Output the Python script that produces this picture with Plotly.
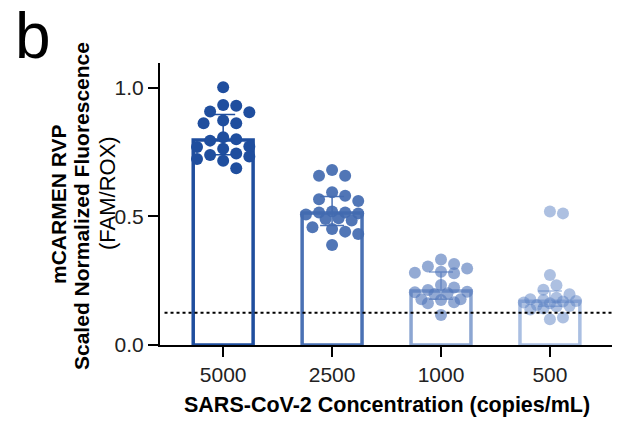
import numpy as np
import plotly.graph_objects as go

categories = ["5000", "2500", "1000", "500"]
counts = ["20/20", "20/20", "19/20", "18/20"]
threshold = 0.125

vals_5000 = [1.003, 0.934, 0.931, 0.905, 0.908, 0.863, 0.873, 0.863, 0.808, 0.800,
             0.795, 0.772, 0.770, 0.763, 0.745, 0.739, 0.733, 0.724, 0.717, 0.688]
vals_2500 = [0.681, 0.658, 0.658, 0.594, 0.581, 0.567, 0.560, 0.519, 0.515, 0.515,
             0.512, 0.508, 0.493, 0.490, 0.484, 0.458, 0.451, 0.441, 0.432, 0.389]
vals_1000 = [0.333, 0.315, 0.305, 0.298, 0.285, 0.281, 0.279, 0.233, 0.224, 0.214,
             0.207, 0.205, 0.201, 0.198, 0.178, 0.178, 0.175, 0.166, 0.162, 0.117]
vals_500 = [0.519, 0.512, 0.272, 0.232, 0.215, 0.197, 0.184, 0.178, 0.175, 0.171,
            0.169, 0.165, 0.162, 0.156, 0.152, 0.150, 0.142, 0.138, 0.107, 0.100]

all_vals = [vals_5000, vals_2500, vals_1000, vals_500]

bar_colors = ["rgb(31,78,158)", "rgb(74,113,180)", "rgb(140,166,210)", "rgb(170,191,226)"]
pt_colors = ["rgba(31,78,158,1)", "rgba(66,106,176,0.92)", "rgba(80,118,186,0.62)", "rgba(92,130,196,0.5)"]

# layout geometry (used for beeswarm spacing)
L, R, T, B = 160, 14, 63, 78
W, H = 626, 423
x_range = [-0.58, 3.57]
y_range = [0, 1.097]
px_x = (W - L - R) / (x_range[1] - x_range[0])
px_y = (H - T - B) / (y_range[1] - y_range[0])
diam = 12


def beeswarm(values, half_width=0.25, step=0.06):
    order = np.argsort(-np.asarray(values))
    placed = []
    offs = [0.0] * len(values)
    ks = [0]
    k = 1
    while k * step <= half_width + 1e-9:
        ks += [k, -k]
        k += 1
    for i in order:
        yv = values[i] * px_y
        best, best_score = 0.0, None
        for kk in ks:
            xo = kk * step
            xp = xo * px_x
            overlap = 0.0
            for (px_, py_) in placed:
                d = np.hypot(px_ - xp, py_ - yv)
                if d < diam:
                    overlap = max(overlap, diam - d)
            if overlap == 0:
                best, best_score = xo, 0
                break
            if best_score is None or overlap < best_score:
                best, best_score = xo, overlap
        offs[i] = best
        placed.append((best * px_x, yv))
    return offs


fig = go.Figure()

xs = list(range(len(categories)))
for i, v in enumerate(all_vals):
    arr = np.asarray(v)
    med = float(np.median(arr))
    q1, q3 = np.percentile(arr, [25, 75], method="weibull")
    fig.add_trace(go.Bar(
        x=[xs[i]], y=[med], width=0.55,
        marker=dict(color="white", line=dict(color=bar_colors[i], width=3.5)),
        error_y=dict(type="data", symmetric=False, array=[q3 - med], arrayminus=[med - q1],
                     color=bar_colors[i], thickness=1.5, width=12),
        showlegend=False, hoverinfo="skip"))

for i, v in enumerate(all_vals):
    offs = beeswarm(v)
    fig.add_trace(go.Scatter(
        x=[xs[i] + o for o in offs], y=v, mode="markers",
        marker=dict(size=diam, color=pt_colors[i], line=dict(width=0)),
        showlegend=False, hoverinfo="skip"))

fig.add_shape(type="line", xref="paper", yref="y", x0=0.01, x1=1, y0=threshold, y1=threshold,
              line=dict(color="black", width=2, dash="dot"))

for i, c in enumerate(counts):
    fig.add_annotation(x=xs[i], y=(H - B - 42) / px_y, xref="x", yref="y", text=c, showarrow=False,
                       font=dict(size=18, color="#111"), yanchor="middle")


def px2paper_x(px):
    return (px - L) / (W - L - R)


def px2paper_y(py):
    return (H - B - py) / (H - T - B)


fig.add_annotation(x=px2paper_x(33), y=px2paper_y(36), xref="paper", yref="paper", text="b",
                   showarrow=False, font=dict(size=64, color="black"),
                   xanchor="center", yanchor="middle")

for txt, px, py, bold, sz in [("mCARMEN RVP", 58, 205, True, 21),
                              ("Scaled Normalized Fluorescence", 81, 206, True, 21),
                              ("(FAM/ROX)", 107, 193, False, 22)]:
    fig.add_annotation(x=px2paper_x(px), y=px2paper_y(py), xref="paper", yref="paper",
                       text=f"<b>{txt}</b>" if bold else txt, textangle=-90, showarrow=False,
                       font=dict(size=sz, color="black"), xanchor="center", yanchor="middle")

fig.add_annotation(x=px2paper_x(387), y=px2paper_y(405), xref="paper", yref="paper",
                   text="<b>SARS-CoV-2 Concentration (copies/mL)</b>", showarrow=False,
                   font=dict(size=21.5, color="black"), xanchor="center", yanchor="middle")

fig.update_layout(
    width=W, height=H, margin=dict(l=L, r=R, t=T, b=B),
    plot_bgcolor="white", paper_bgcolor="white",
    font=dict(family="Liberation Sans, Arial, sans-serif", color="#222"),
    bargap=0.3,
    xaxis=dict(range=x_range, tickmode="array", tickvals=xs, ticktext=categories,
               showline=True, linecolor="black", linewidth=2, ticks="outside", ticklen=10,
               tickwidth=2, tickcolor="black", showgrid=False, zeroline=False,
               tickfont=dict(size=21, color="#222")),
    yaxis=dict(range=y_range, tickmode="array", tickvals=[0, 0.5, 1.0], ticktext=["0.0", "0.5", "1.0"],
               showline=True, linecolor="black", linewidth=2, ticks="outside", ticklen=10,
               tickwidth=2, tickcolor="black", showgrid=False, zeroline=False,
               tickfont=dict(size=21, color="#222")),
)

fig.write_html("out.html")
